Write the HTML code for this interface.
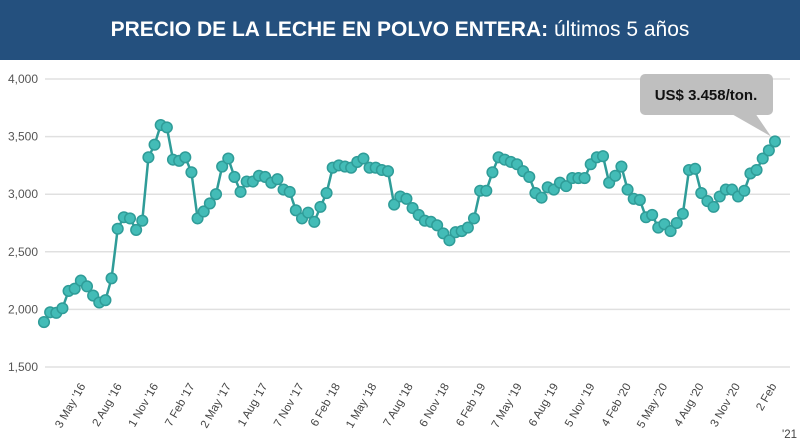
<!DOCTYPE html>
<html><head><meta charset="utf-8"><style>
body{margin:0;width:800px;height:445px;background:#fff;font-family:"Liberation Sans",sans-serif;overflow:hidden}
#hdr{position:absolute;left:0;top:0;width:800px;height:60px;background:#24507e;color:#fff;text-align:center;line-height:60px;font-size:21px}
</style></head><body>
<div id="hdr"><b>PRECIO DE LA LECHE EN POLVO ENTERA:</b> últimos 5 años</div>
<svg id="c" width="800" height="445" style="position:absolute;left:0;top:0"></svg>
<script>
const values=[1890,1975,1970,2010,2160,2180,2250,2200,2120,2060,2080,2270,2700,2800,2790,2690,2770,3320,3430,3600,3580,3300,3290,3320,3190,2790,2850,2920,3000,3240,3310,3150,3020,3110,3110,3160,3150,3100,3130,3040,3020,2860,2790,2840,2760,2890,3010,3230,3250,3240,3230,3280,3310,3230,3230,3210,3200,2910,2980,2960,2880,2820,2770,2760,2730,2660,2600,2670,2680,2710,2790,3030,3030,3190,3320,3300,3280,3260,3200,3150,3010,2970,3060,3040,3100,3070,3140,3140,3140,3260,3320,3330,3100,3160,3240,3040,2960,2950,2800,2820,2710,2740,2680,2750,2830,3210,3220,3010,2940,2890,2980,3040,3040,2980,3030,3180,3210,3310,3380,3458];
const yTicks=[1500,2000,2500,3000,3500,4000];
const xLabels=["3 May '16","2 Aug '16","1 Nov '16","7 Feb '17","2 May '17","1 Aug '17","7 Nov '17","6 Feb '18","1 May '18","7 Aug '18","6 Nov '18","6 Feb '19","7 May '19","6 Aug '19","5 Nov '19","4 Feb '20","5 May '20","4 Aug '20","3 Nov '20","2 Feb"];
const calloutText="US$ 3.458/ton.";
const NS="http://www.w3.org/2000/svg",svg=document.getElementById('c');
const y=v=>79+(4000-v)/500*57.6;
const x=i=>44+i*(775-44)/(values.length-1);
function mk(t,a,p){const e=document.createElementNS(NS,t);for(const k in a)e.setAttribute(k,a[k]);(p||svg).appendChild(e);return e;}
yTicks.forEach(t=>{
 const l=mk('line',{x1:45,x2:790,y1:y(t),y2:y(t),stroke:'#e0e0e0','stroke-width':1.5});
 
 
 const tx=mk('text',{x:38,y:y(t)+4,'text-anchor':'end','font-size':12,fill:'#555'});
 tx.textContent=t.toLocaleString('en-US');
 
 
});
xLabels.forEach((s,k)=>{
 const i=6+k*5.92, px=x(i)+5, py=386;
 const tx=mk('text',{x:px,y:py,'text-anchor':'end','font-size':11.5,fill:'#444',transform:`rotate(-60 ${px} ${py})`});
 tx.textContent=s;
 
 
});
const t2=mk('text',{x:797,y:438,'text-anchor':'end','font-size':11.5,fill:'#444'});t2.textContent="'21";


const line=mk('polyline',{points:values.map((v,i)=>x(i)+','+y(v)).join(' '),fill:'none',stroke:'#2f9c98','stroke-width':2.5});


values.forEach((v,i)=>{
 const c=mk('circle',{cx:x(i),cy:y(v),r:5.3,fill:'#43bcb7',stroke:'#2f9c98','stroke-width':1.5});
 
 
});
const lx=x(values.length-1),ly=y(values[values.length-1]);
const g=mk('g',{});


mk('rect',{x:640,y:74,width:133,height:41,rx:5,fill:'#bfbfbf'},g);
mk('polygon',{points:`730,113 755,113 ${lx-4},${ly-5}`,fill:'#bfbfbf'},g);
const ct=mk('text',{x:706,y:100,'text-anchor':'middle','font-size':15,'font-weight':'bold',fill:'#111'},g);ct.textContent=calloutText;
</script>
</body></html>
